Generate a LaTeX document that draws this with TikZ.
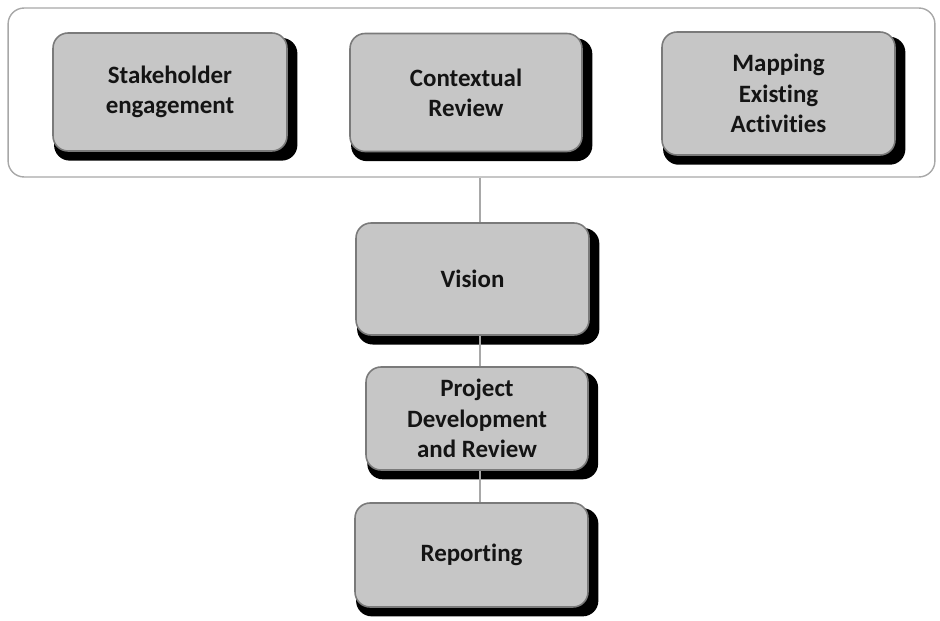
\documentclass[tikz,border=0pt]{standalone}
\usepackage{fontspec}
\setmainfont[Ligatures=NoCommon]{Carlito}
\usetikzlibrary{positioning,shadows}
\definecolor{boxgray}{HTML}{C6C6C6}
\definecolor{framegray}{HTML}{A8A8A8}
\definecolor{edgegray}{HTML}{7A7A7A}
\tikzset{
    every node/.style={font=\bfseries\fontsize{14.2}{17.2}\selectfont, text=black!92},
    stage/.style={draw=edgegray, line width=0.9pt, fill=boxgray,
        rounded corners=0.3cm, align=center, inner sep=2pt,
        minimum width=4.66cm, minimum height=2.36cm,
        drop shadow={shadow xshift=0.11cm, shadow yshift=-0.14cm,
            shadow scale=1.04, fill=black, opacity=1}},
    phase/.style={draw=framegray, line width=0.8pt, rounded corners=0.32cm,
        minimum width=18.54cm, minimum height=3.38cm}
}

\begin{document}
\begin{tikzpicture}[
            x = 0.02cm, y = -0.02cm, % pixel grid
            link/.style = {draw = framegray, line width = 1pt}
        ]

        \useasboundingbox (0,0) rectangle (940,621);

        % top row inside the frame
        \node[phase] (phase) at (471.5,92.5) {};
        \node[stage, minimum width=4.68cm] (stake) at (170,92) {Stakeholder\\engagement};
        \node[stage, minimum width=4.64cm] (context) at (466,92.5) {Contextual\\Review};
        \node[stage, minimum height=2.46cm] (mapping) at (778.5,93.5) {Mapping\\Existing\\Activities};

        % column below
        \node[stage, minimum height=2.24cm] (vision) at (472.5,279) {Vision};
        \node[stage, minimum width=4.44cm, minimum height=2.06cm] (project) at (477,418.5) {Project\\Development\\and Review};
        \node[stage, minimum height=2.08cm] (report) at (471.5,555) {Reporting};

        \coordinate (spine) at (480,0);

        \path[link] (phase.south -| spine) -- (vision.north -| spine);
        \path[link] (vision.south -| spine) -- (project.north -| spine);
        \path[link] (project.south -| spine) -- (report.north -| spine);

  \end{tikzpicture}
\end{document}
